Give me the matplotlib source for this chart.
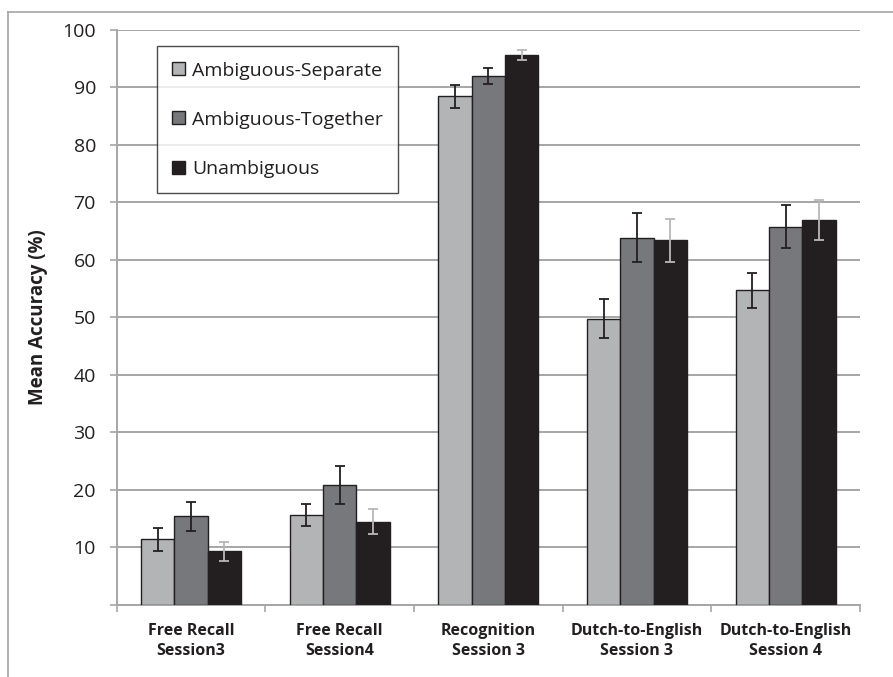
import matplotlib.pyplot as plt
from matplotlib.lines import Line2D
import numpy as np

plt.rcParams['font.family'] = ['Open Sans', 'DejaVu Sans']

groups = ['Free Recall\nSession3', 'Free Recall\nSession4', 'Recognition\nSession 3',
          'Dutch-to-English\nSession 3', 'Dutch-to-English\nSession 4']
series = ['Ambiguous-Separate', 'Ambiguous-Together', 'Unambiguous']

amb_sep = [11.4, 15.6, 88.5, 49.8, 54.7]
amb_tog = [15.4, 20.8, 92.0, 63.9, 65.8]
unamb = [9.3, 14.5, 95.6, 63.4, 66.9]

err_sep = [2.0, 1.9, 2.0, 3.45, 3.1]
err_tog = [2.5, 3.3, 1.4, 4.3, 3.8]
err_unamb = [1.7, 2.2, 0.9, 3.7, 3.45]

fills = ['#b3b4b6', '#77787b', '#231f20']
err_colors = ['#231f20', '#231f20', '#b8b8b8']
txt = '#231f20'

fig = plt.figure(figsize=(8.93, 6.77), dpi=100)
ax = fig.add_axes([0.1307, 0.1064, 0.8323, 0.8493])

x = np.arange(len(groups))
w = 0.224
vals = [amb_sep, amb_tog, unamb]
errs = [err_sep, err_tog, err_unamb]
for i in range(3):
    pos = x + (i - 1) * w
    ax.bar(pos, vals[i], w, color=fills[i], edgecolor='#231f20', linewidth=1,
           label=series[i], zorder=3)
    ax.errorbar(pos, vals[i], yerr=errs[i], fmt='none', ecolor=err_colors[i],
                elinewidth=1.3, capsize=3.5, capthick=1.3, zorder=4)

ax.set_ylim(0, 100)
ax.set_xlim(-0.5, len(groups) - 0.5)
ax.set_yticks(range(0, 101, 10))
ax.set_yticklabels([''] + [str(v) for v in range(10, 101, 10)], fontsize=14, color=txt)
ax.yaxis.grid(True, color='#a6a6a6', linewidth=1.4, zorder=0)
ax.set_axisbelow(True)
ax.tick_params(axis='y', length=5, width=1.2, color='#a6a6a6', pad=10)

ax.set_xticks(np.arange(-0.5, len(groups), 1.0))
ax.set_xticklabels([])
ax.set_xticks(x, minor=True)
ax.set_xticklabels(groups, minor=True, fontsize=11.5, fontweight='bold', color=txt,
                   linespacing=1.3)
ax.tick_params(axis='x', which='major', length=5, width=1.2, color='#a6a6a6', direction='out')
ax.tick_params(axis='x', which='minor', length=0, pad=13)

for s in ['top', 'right']:
    ax.spines[s].set_visible(False)
for s in ['left', 'bottom']:
    ax.spines[s].set_color('#a6a6a6')
    ax.spines[s].set_linewidth(1.4)

ax.set_ylabel('Mean Accuracy (%)', fontsize=13.5, fontweight='bold', color=txt, labelpad=10)

leg = ax.legend(loc='upper left', bbox_to_anchor=(0.054, 0.972), borderaxespad=0,
                fontsize=14, frameon=True, fancybox=False, labelspacing=1.6,
                handlelength=0.65, handleheight=0.65, handletextpad=0.35,
                borderpad=0.8, edgecolor='#231f20')
leg.get_frame().set_linewidth(1.0)
for t in leg.get_texts():
    t.set_color(txt)

# outer frame lines (top and left visible in reference)
fig.add_artist(Line2D([8 / 893, 1.0], [1 - 12 / 677, 1 - 12 / 677], color='#a6a6a6', linewidth=1.2))
fig.add_artist(Line2D([8 / 893, 8 / 893], [0.0, 1 - 12 / 677], color='#a6a6a6', linewidth=1.2))

fig.savefig('out.png', dpi=100)
